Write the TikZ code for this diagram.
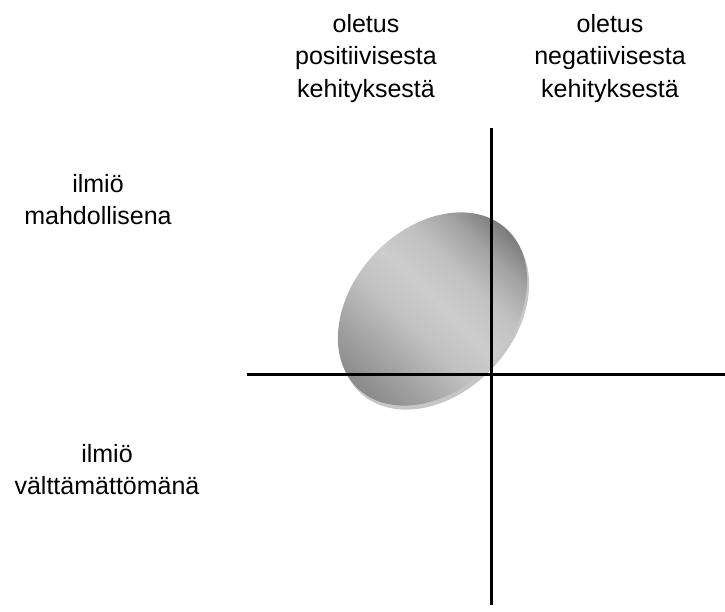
\documentclass[tikz,border=0pt]{standalone}
\usepackage{fontspec}
\setmainfont{Liberation Sans}
\pgfdeclarehorizontalshading{discshade}{100bp}{%
  color(0bp)=(black!46);
  color(25bp)=(black!46);
  color(34bp)=(black!36);
  color(44bp)=(black!24);
  color(52bp)=(black!20);
  color(60bp)=(black!24);
  color(68bp)=(black!36);
  color(75bp)=(black!52);
  color(100bp)=(black!52)}
\begin{document}
\begin{tikzpicture}[x=1pt,y=1pt,
  lbl/.style={align=center,anchor=north,inner sep=0pt,font=\fontsize{25}{32.5}\selectfont},
  axisline/.style={line width=3pt,black}]
\useasboundingbox (0,0) rectangle (725,-611);
% ellipse rim (shadow)
\begin{scope}[transform canvas={shift={(434.5,-313)},rotate=47}]
  \fill[gray!45] (0,0) ellipse [x radius=109, y radius=80];
\end{scope}
\begin{scope}[transform canvas={shift={(432.5,-309)},rotate=47}]
  \shade[shading=discshade]
    (0,0) ellipse [x radius=109, y radius=80];
\end{scope}
\coordinate (vtop) at (491,-128);
\coordinate (vbot) at (491,-605);
\coordinate (hleft) at (247,-374);
\coordinate (hright) at (725,-374);
\draw[axisline] (vtop) -- (vbot);
\draw[axisline] (hleft) -- (hright);
\node[lbl] (pos) at (366,-14) {oletus\\positiivisesta\\kehityksestä};
\node[lbl] (neg) at (610,-14) {oletus\\negatiivisesta\\kehityksestä};
\node[lbl] (mahd) at (98,-174) {ilmiö\\mahdollisena};
\node[lbl] (valt) at (107,-444) {ilmiö\\välttämättömänä};
\end{tikzpicture}
\end{document}
